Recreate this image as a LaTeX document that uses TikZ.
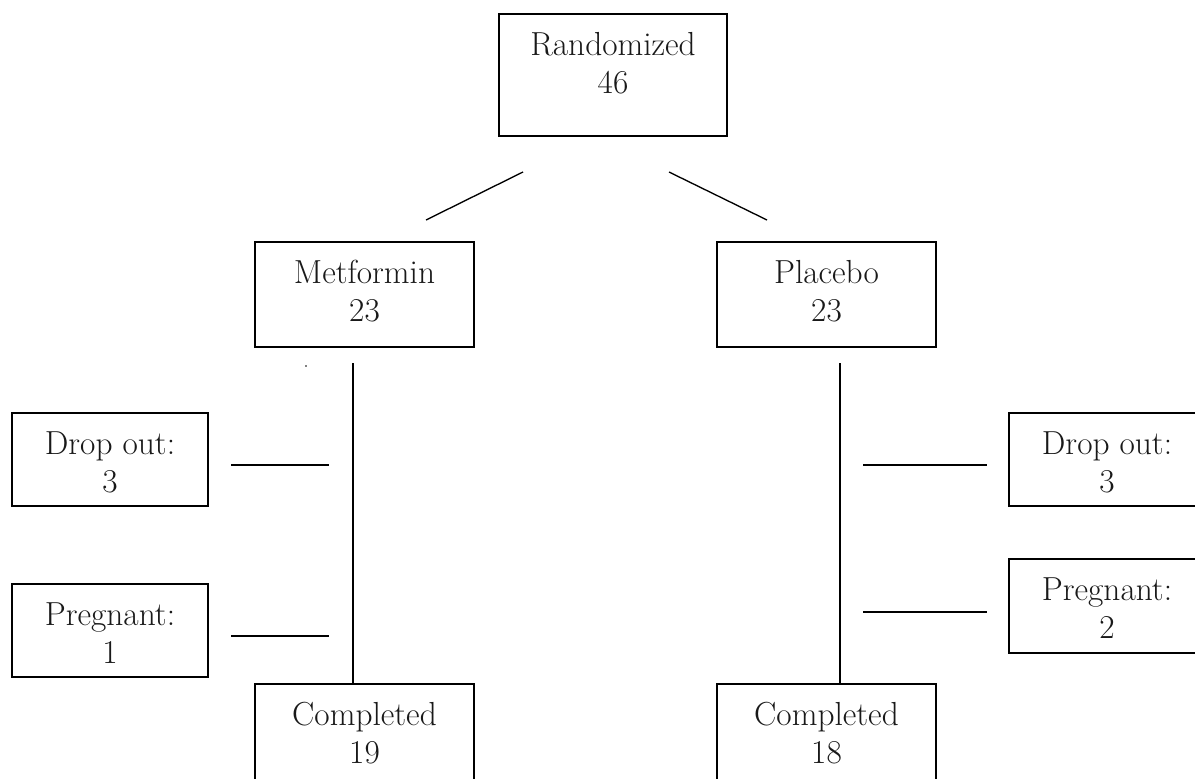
\documentclass[tikz,border=0pt]{standalone}
\newcommand\boxtxt[3]{\parbox[c][#2][t]{#1}{\fontsize{25}{28.5}\selectfont\centering\vspace*{10.8pt}#3\par}}
\tikzset{
  flowbox/.style={draw=black, line width=1.1pt, inner sep=0pt, rectangle, text=black!90},
  link/.style={draw=black, line width=1pt},
}
\begin{document}
\begin{tikzpicture}[x=0.75pt, y=-0.75pt]
\clip (0,0) rectangle (1195,778);
\fill[white] (0,0) rectangle (1195,778);

\node[flowbox] (rand) at (613,75) {\boxtxt{171pt}{91.5pt}{\strut Randomized\\\strut 46}};
\node[flowbox] (met) at (364.5,294.5) {\boxtxt{164.25pt}{78.75pt}{\strut Metformin\\\strut 23}};
\node[flowbox] (pla) at (826.5,294.5) {\boxtxt{164.25pt}{78.75pt}{\strut Placebo\\\strut 23}};
\node[flowbox] (dropL) at (110,459.5) {\boxtxt{147pt}{69.75pt}{\strut Drop out:\\\strut 3}};
\node[flowbox] (pregL) at (110,630.5) {\boxtxt{147pt}{69.75pt}{\strut Pregnant:\\\strut 1}};
\node[flowbox] (dropR) at (1107,459.5) {\boxtxt{147pt}{69.75pt}{\strut Drop out:\\\strut 3}};
\node[flowbox] (pregR) at (1107,606) {\boxtxt{147pt}{70.5pt}{\strut Pregnant:\\\strut 2}};
\node[flowbox] (compL) at (364.5,736.5) {\boxtxt{164.25pt}{78.75pt}{\strut Completed\\\strut 19}};
\node[flowbox] (compR) at (826.5,736.5) {\boxtxt{164.25pt}{78.75pt}{\strut Completed\\\strut 18}};

% free-standing connector ends
\coordinate (dl1) at (523,172);
\coordinate (dl2) at (426,220);
\coordinate (dr1) at (669,172);
\coordinate (dr2) at (767,220);
\coordinate (vl1) at (353,363);
\coordinate (vr1) at (840,363);
\coordinate (hl1a) at (231,465);
\coordinate (hl1b) at (329,465);
\coordinate (hl2a) at (231,636);
\coordinate (hl2b) at (329,636);
\coordinate (hr1a) at (863,465);
\coordinate (hr1b) at (987,465);
\coordinate (hr2a) at (863,612);
\coordinate (hr2b) at (987,612);

\draw[link] (dl1) -- (dl2);
\draw[link] (dr1) -- (dr2);
\draw[link] (vl1) -- (vl1 |- compL.north);
\draw[link] (vr1) -- (vr1 |- compR.north);
\draw[link] (hl1a) -- (hl1b);
\draw[link] (hl2a) -- (hl2b);
\draw[link] (hr1a) -- (hr1b);
\draw[link] (hr2a) -- (hr2b);

\fill[black] (306,366) circle (0.9);
\end{tikzpicture}
\end{document}
